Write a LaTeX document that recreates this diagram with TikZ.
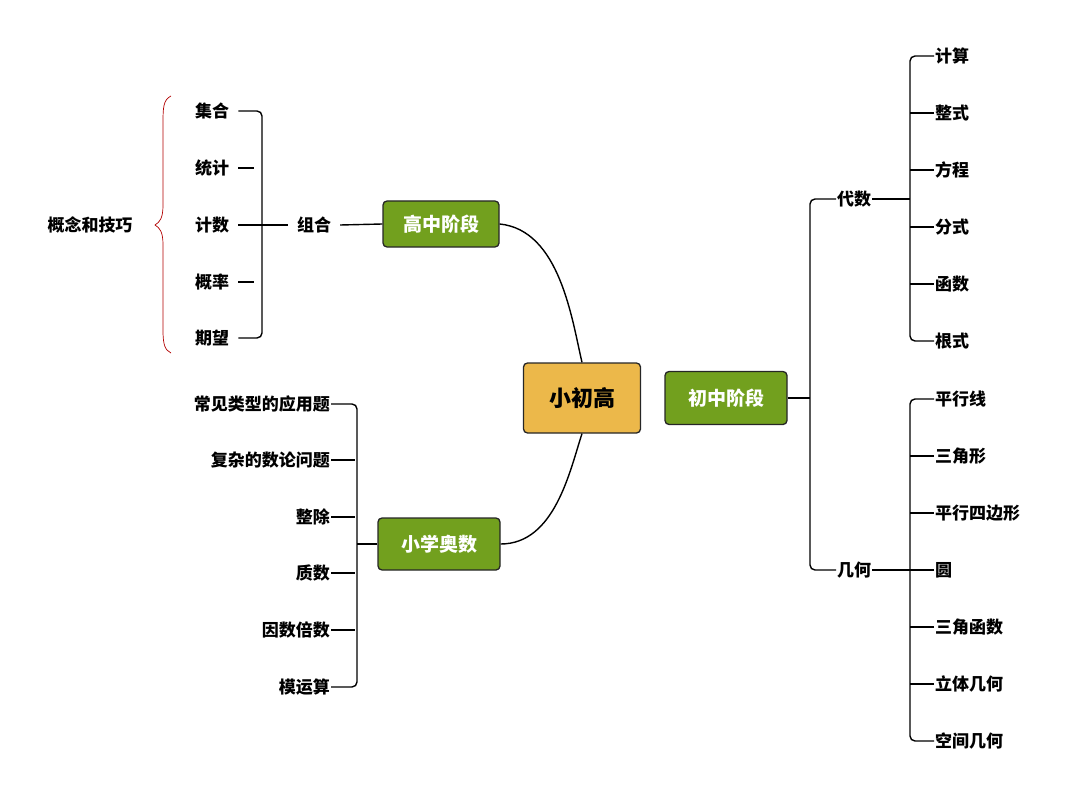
\documentclass[tikz,border=0pt]{standalone}
\usepackage{fontspec}
\usetikzlibrary{calc}
\setmainfont{Noto Sans CJK SC}
\newcommand\cjkb{\bfseries}
\begin{document}
\begin{tikzpicture}[x=1pt,y=-1pt,
  lbl/.style={font=\cjkb\fontsize{17}{17}\selectfont,inner sep=1pt},
  gbox/.style={draw=black!85,line width=1.3pt,rounded corners=4pt,text=white,font=\cjkb\fontsize{19}{19}\selectfont,minimum width=118pt,minimum height=50pt},
  ln/.style={line width=1.4pt,rounded corners=5pt}]
\definecolor{gr}{HTML}{72A01E}
\definecolor{og}{HTML}{ECB84A}
\useasboundingbox (0,0) rectangle (1080,797);
\node[gbox,fill=og,text=black,minimum width=117pt,minimum height=70pt,font=\cjkb\fontsize{22}{22}\selectfont] (c) at (582,398) {小初高};
\node[gbox,fill=gr,minimum width=122pt,minimum height=53pt] (m) at (726,398) {初中阶段};
\node[gbox,fill=gr,minimum width=116pt,minimum height=46pt] (h) at (441,224) {高中阶段};
\node[gbox,fill=gr,minimum width=122pt,minimum height=52pt] (p) at (439,544) {小学奥数};
\draw[ln] (h.east) .. controls (560,230) and (572,320) .. (c.north);
\draw[ln] (c.south) .. controls (570,470) and (555,544) .. (p.east);
\draw[ln] (m.east) -- (810,398);
% right side
\node[lbl,anchor=west] (ds) at (836,199) {代数};
\node[lbl,anchor=west] (jh) at (836,570) {几何};
\draw[ln] (ds.west) -- (810,199) -- (810,570) -- (jh.west);
\coordinate (dsb) at (910,199);
\coordinate (jhb) at (910,570);
\draw[ln] (ds.east) -- (dsb);
\draw[ln] (jh.east) -- (jhb);
\foreach \t/\y [count=\i] in {计算/56,整式/113,方程/170,分式/227,函数/284,根式/341}{
  \node[lbl,anchor=west] (a\i) at (934,\y) {\t};}
\draw[ln] (a1.west) -- (910,56) -- (910,341) -- (a6.west);
\foreach \i in {2,...,5}{\draw[ln] (a\i.west) -- +(-24,0);}
\foreach \t/\y [count=\i] in {平行线/399,三角形/456,平行四边形/513,圆/570,三角函数/627,立体几何/684,空间几何/741}{
  \node[lbl,anchor=west] (g\i) at (934,\y) {\t};}
\draw[ln] (g1.west) -- (910,399) -- (910,741) -- (g7.west);
\foreach \i in {2,...,6}{\draw[ln] (g\i.west) -- +(-24,0);}
% bottom left
\foreach \t/\y [count=\i] in {常见类型的应用题/404,复杂的数论问题/460,整除/517,质数/573,因数倍数/630,模运算/687}{
  \node[lbl,anchor=east] (o\i) at (331,\y) {\t};}
\draw[ln] (o1.east) -- (357,404) -- (357,687) -- (o6.east);
\foreach \i in {2,...,5}{\draw[ln] (o\i.east) -- +(24,0);}
\draw[ln] (p.west) -- (357,544);
% top left
\node[lbl] (zh) at (314,225) {组合};
\draw[ln] ($(zh.east)+(8,0)$) -- (h.west);
\foreach \t/\y [count=\i] in {集合/111,统计/168,计数/225,概率/282,期望/338}{
  \node[lbl,anchor=west] (k\i) at (194,\y) {\t};}
\draw[ln] ($(k1.east)+(8,0)$) -- (262,111) -- (262,338) -- ($(k5.east)+(8,0)$);
\foreach \i in {2,4}{\draw[ln] ($(k\i.east)+(8,0)$) -- +(16,0);}
\draw[ln] ($(k3.east)+(8,0)$) -- ($(zh.west)+(-8,0)$);
\node[lbl] (gn) at (90,225) {概念和技巧};
\draw[red!70!black,line width=0.7pt] (171,96) .. controls (163,100) and (163,108) .. (163,125)
  -- (163,205) .. controls (163,218) and (160,222) .. (155,225)
  .. controls (160,228) and (163,232) .. (163,245) -- (163,330)
  .. controls (163,345) and (165,350) .. (171,353);
\end{tikzpicture}
\end{document}
